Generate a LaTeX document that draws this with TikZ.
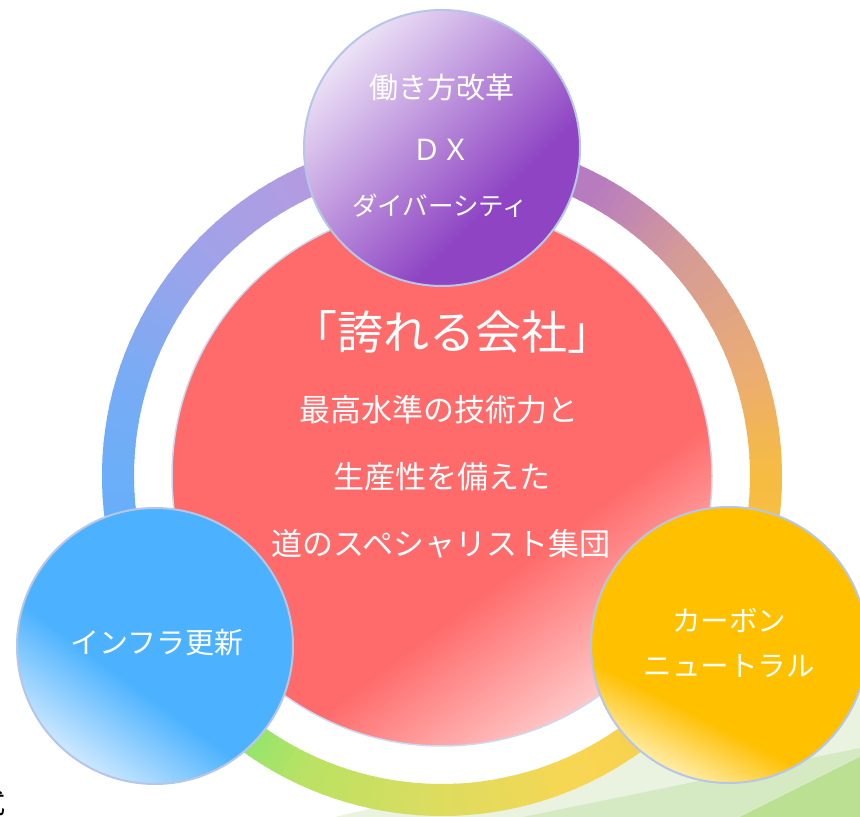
\documentclass[tikz,border=0pt]{standalone}
\usepackage{fontspec}
\newfontfamily\jp{Noto Sans CJK JP}
\definecolor{edgeC}{RGB}{182,198,231}
\definecolor{redD}{RGB}{255,107,107}
\definecolor{redL}{RGB}{255,200,200}
\definecolor{purD}{RGB}{142,68,195}
\definecolor{purL}{RGB}{236,226,246}
\definecolor{bluD}{RGB}{76,178,255}
\definecolor{bluL}{RGB}{205,232,255}
\definecolor{yelD}{RGB}{255,192,0}
\definecolor{yelL}{RGB}{255,236,168}
\definecolor{gPale}{RGB}{234,242,224}
\definecolor{gMid}{RGB}{213,234,195}
\definecolor{gDark}{RGB}{187,224,145}
% ring colour stops
\definecolor{kA}{RGB}{178,150,226}
\definecolor{kB}{RGB}{180,155,225}
\definecolor{kC}{RGB}{160,162,232}
\definecolor{kD}{RGB}{120,172,245}
\definecolor{kE}{RGB}{102,175,250}
\definecolor{kF}{RGB}{140,230,110}
\definecolor{kG}{RGB}{185,226,100}
\definecolor{kH}{RGB}{222,220,95}
\definecolor{kI}{RGB}{248,214,82}
\definecolor{kJ}{RGB}{249,200,70}
\definecolor{kK}{RGB}{246,188,65}
\definecolor{kL}{RGB}{235,172,115}
\definecolor{kM}{RGB}{212,155,152}
\definecolor{kN}{RGB}{185,125,190}
\definecolor{kO}{RGB}{172,112,200}
\pgfdeclareverticalshading{redsh}{100bp}{color(0bp)=(redL); color(25bp)=(redL); color(39bp)=(redD); color(100bp)=(redD)}
\pgfdeclareverticalshading{pursh}{100bp}{color(0bp)=(purD); color(36bp)=(purD); color(75bp)=(purL); color(100bp)=(purL)}
\pgfdeclareverticalshading{blush}{100bp}{color(0bp)=(bluL); color(25bp)=(bluL); color(42bp)=(bluD); color(100bp)=(bluD)}
\pgfdeclareverticalshading{yelsh}{100bp}{color(0bp)=(yelL); color(25bp)=(yelL); color(36bp)=(yelD); color(100bp)=(yelD)}
\begin{document}
\begin{tikzpicture}[x=1pt,y=1pt,
  bubble/.style={circle, inner sep=0pt, minimum size=276pt, draw=edgeC, line width=2pt},
  lbl/.style={text=white, inner sep=0pt, font=\jp\fontsize{#1}{#1}\selectfont}]
\useasboundingbox (0,0) rectangle (860,817);
\fill[white] (0,0) rectangle (860,817);
% background green wedges
\fill[gPale] (335,0) -- (860,123) -- (860,0) -- cycle;
\fill[gMid] (523,0) -- (860,69) -- (860,0) -- cycle;
\fill[gDark] (740,0) -- (860,60) -- (860,0) -- cycle;
% ring
\coordinate (ringc) at (442,341);
\begin{scope}[shift={(ringc)}]
\foreach \aa/\bb/\ca/\cb in {90/115/kA/kB,115/137/kB/kC,137/163/kC/kD,163/190/kD/kE,190/232/kE/kF,232/245/kF/kG,245/270/kG/kH,270/295/kH/kI,295/330/kI/kJ,330/360/kJ/kK,360/379/kK/kL,379/403/kL/kM,403/421/kM/kN,421/450/kN/kO}{
  \foreach \k in {0,...,11}{
    \pgfmathsetmacro\ta{\aa+(\bb-\aa)*\k/12}
    \pgfmathsetmacro\tb{\aa+(\bb-\aa)*(\k+1)/12+0.4}
    \pgfmathsetmacro\pp{100*(\k+0.5)/12}
    \fill[\cb!\pp!\ca] (\ta:340) arc[start angle=\ta, end angle=\tb, radius=340] -- (\tb:308) arc[start angle=\tb, end angle=\ta, radius=308] -- cycle;
  }
}
\end{scope}
% central circle
\node[circle, inner sep=0pt, minimum size=540pt, draw={rgb,255:red,205;green,216;blue,240}, line width=1.5pt, shading=redsh, shading angle=37] (core) at (ringc) {};
% satellites
\node[bubble, shading=pursh, shading angle=45] (work) at (442,669) {};
\node[bubble, shading=blush, shading angle=-36] (infra) at (155,171) {};
\node[bubble, shading=yelsh, shading angle=-27] (carbon) at (729,172) {};
% texts
\node[lbl=46] (title) at (452,485) {「誇れる会社」};
\node[lbl=31] (l1) at (439,407) {最高水準の技術力と};
\node[lbl=31] (l2) at (442,340) {生産性を備えた};
\node[lbl=31] (l3) at (441,273) {道のスペシャリスト集団};
\node[lbl=29] (p1) at (441.5,729) {働き方改革};
\node[lbl=29] (p2) at (441.5,667) {ＤＸ};
\node[lbl=25.5] (p3) at (440,611) {ダイバーシティ};
\node[lbl=29] (b1) at (157,174) {インフラ更新};
\node[lbl=28.5] (y1) at (729,197) {カーボン};
\node[lbl=28.5] (y2) at (729,151) {ニュートラル};
\node[inner sep=0pt, text=black, font=\jp\fontsize{28}{28}\selectfont] (shiki) at (-8,14) {式};
\end{tikzpicture}
\end{document}
